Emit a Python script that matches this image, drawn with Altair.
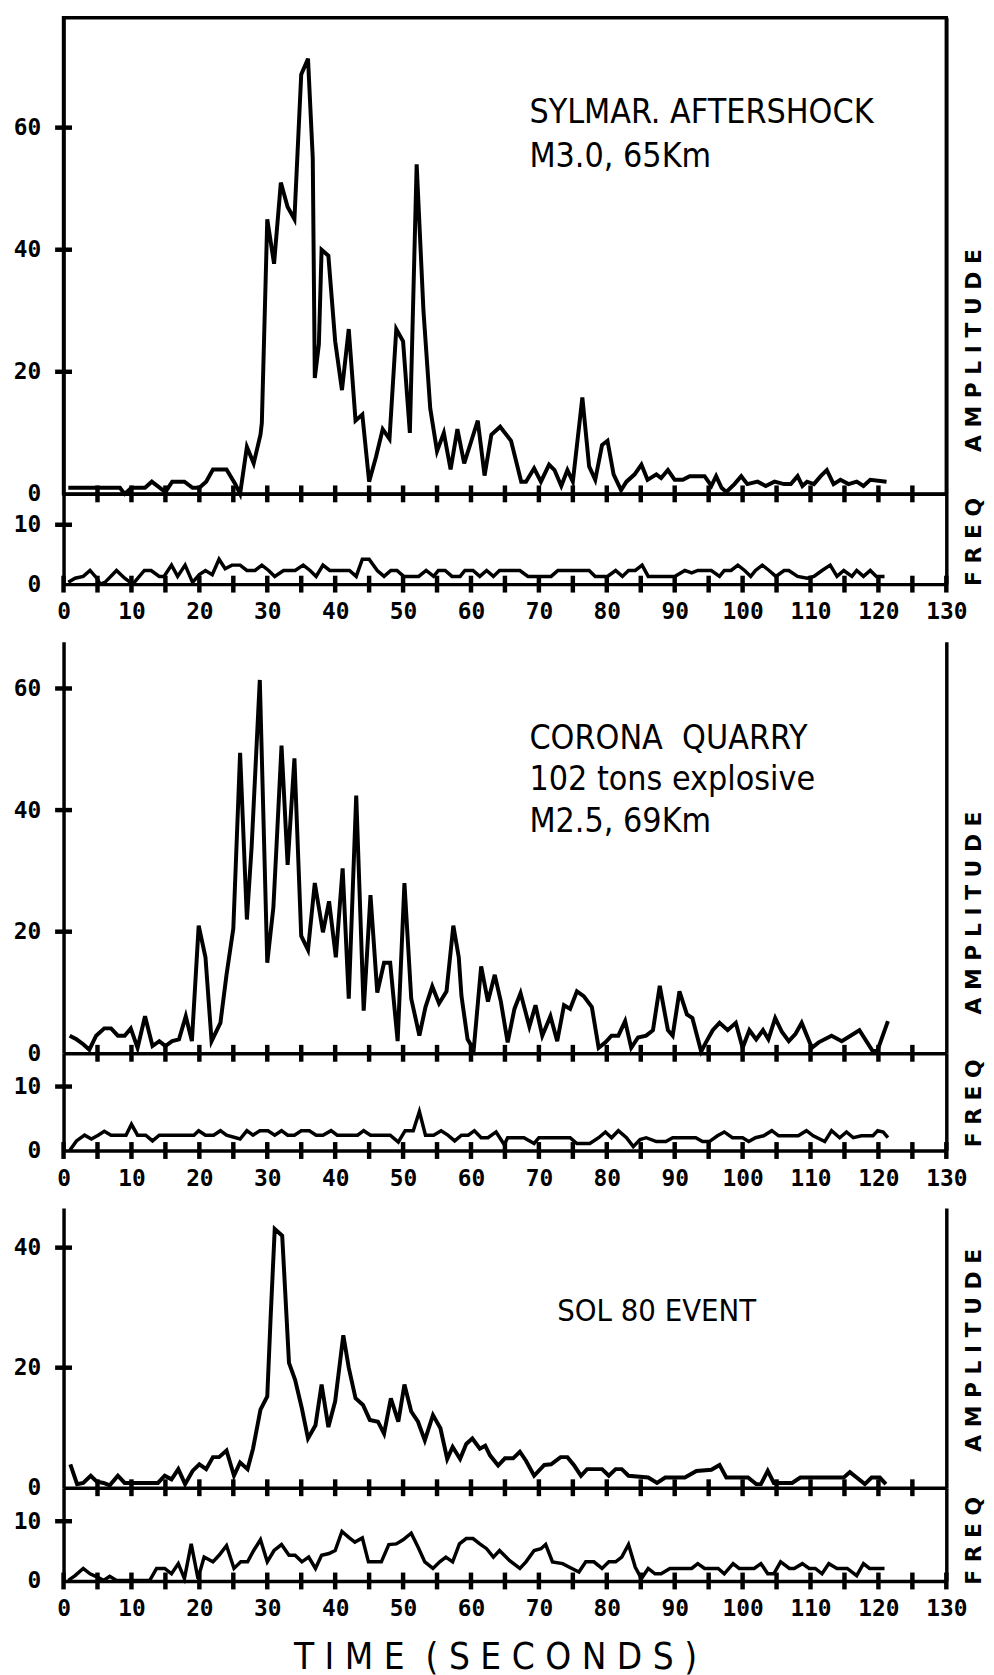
import altair as alt
import pandas as pd

# ---------------- data (time in seconds, value) ----------------
x_label_values = list(range(0, 131, 10))
amp_base_ticks = list(range(5, 130, 5))
freq_base_ticks = list(range(0, 131, 5))

sylmar_amp = [(0.7, 1), (8.3, 1), (9, 0), (10, 1), (12, 1), (13, 2), (15, 0.3), (16, 2), (17.8, 2),
              (19, 1), (20, 1), (21, 2), (22, 4), (24, 4), (25.3, 1.6), (26, 0), (27, 7.7), (28, 5),
              (29, 9.7), (29.2, 11.6), (30, 45), (31, 37.7), (32, 51), (33, 47), (34, 45), (35, 68.7),
              (36, 71.3), (36.7, 55), (37, 19), (37.6, 24.5), (38, 40), (39, 39), (40, 25), (41, 17),
              (42, 27), (43, 12), (44, 13), (45, 2), (46, 6), (47, 10.6), (48, 9), (49, 27), (50, 25),
              (51, 10), (52, 54), (53, 30), (54, 14), (55, 7), (56, 10), (57, 4), (58, 10.6), (59, 5),
              (60, 8.5), (61, 12), (62, 3), (63, 9.7), (64.3, 11), (65.9, 8.7), (67.4, 2), (68.1, 2),
              (69.3, 4.2), (70.3, 2), (71.5, 4.8), (72.3, 3.9), (73.3, 1.3), (74.2, 3.9), (75, 2),
              (76.4, 15.8), (77.4, 4.5), (78.3, 2.3), (79.3, 8), (80.1, 8.7), (81, 3.2), (82.1, 0.6),
              (82.9, 2), (84.1, 3.2), (85.1, 4.8), (86, 2.3), (87.3, 3.2), (88, 2.6), (89, 3.9),
              (90, 2.3), (91.2, 2.3), (92.2, 2.9), (94.4, 2.9), (95.4, 1.3), (96.1, 2.9), (96.9, 1),
              (97.6, 0.3), (98.8, 1.6), (99.8, 2.9), (100.7, 1.6), (102.2, 2), (103.4, 1.3),
              (104.7, 2), (106.1, 1.6), (107.1, 1.6), (108.1, 2.9), (108.8, 1.3), (109.5, 2),
              (110.5, 1.6), (111.5, 2.9), (112.4, 3.9), (113.4, 1.6), (114.4, 2.3), (115.6, 1.6),
              (116.8, 2), (117.8, 1.3), (118.8, 2.3), (121.2, 2)]

sylmar_freq = [(0.7, 0.3), (1.7, 1), (2.9, 1.3), (3.9, 2.3), (4.9, 1), (5.4, 0), (6.1, 0.3), (7.8, 2.3),
               (9, 1), (10.2, 0), (11.9, 2.3), (12.9, 2.3), (14.1, 1.3), (14.8, 1.3), (15.9, 3.2),
               (16.8, 1.3), (17.9, 3.2), (19, 0.3), (20, 1.6), (20.9, 2.3), (21.9, 1.6), (22.9, 4.2),
               (23.8, 2.6), (24.8, 3.2), (26, 3.2), (27, 2.3), (28.2, 2.3), (29.2, 3.2), (30.2, 2.3),
               (31.1, 1.3), (32.4, 2.3), (34.1, 2.3), (35.3, 3.2), (36.3, 2.3), (37.2, 1.3), (38.2, 3.2),
               (39.2, 2.3), (42.1, 2.3), (43.1, 1.3), (44, 4.2), (45, 4.2), (46.2, 2.3), (47.2, 1.3),
               (48.2, 2.3), (49.1, 2.3), (50.1, 1.3), (52.3, 1.3), (53.4, 2.3), (54.5, 1.3), (55.2, 2.3),
               (56.2, 2.3), (57.2, 1.3), (58.4, 1.3), (59.1, 2.3), (60.3, 2.3), (61.3, 1.3), (62.3, 2.3),
               (63.3, 1.3), (64.2, 2.3), (67.2, 2.3), (68.4, 1.3), (71.8, 1.3), (72.8, 2.3), (77.4, 2.3),
               (78.3, 1.3), (80.1, 1.3), (81.3, 2.3), (82.3, 1.3), (83.2, 2.3), (84.2, 2.3), (85.2, 3.2),
               (86.1, 1.3), (90, 1.3), (91.5, 2.3), (92.5, 1.9), (93.4, 2.3), (95.4, 2.3), (96.6, 1.3),
               (97.3, 2.3), (98.3, 2.3), (99.3, 3.2), (100.3, 2.3), (101.2, 1.3), (101.9, 2.3),
               (102.9, 3.2), (103.9, 2.3), (104.9, 1.3), (106.1, 2.3), (106.8, 2.3), (108.1, 1.3),
               (109.5, 1), (110.5, 1.3), (111.7, 2.3), (112.9, 3.2), (113.9, 1.3), (114.9, 2.3),
               (116.1, 1.3), (116.8, 2.3), (117.8, 1.3), (118.8, 2.3), (119.7, 1.3), (120.9, 1.3)]

corona_amp = [(0.9, 2.9), (1.9, 2.3), (2.9, 1.5), (3.8, 0.6), (4.8, 2.9), (6, 4.1), (7, 4.1), (8, 2.9),
              (9, 2.9), (9.9, 4.1), (10.9, 0.9), (12, 6.1), (13.1, 1.2), (14.1, 2), (15, 1.2), (16, 2),
              (17, 2.3), (18, 6.1), (18.9, 2), (19.9, 21), (20.9, 15.8), (21.8, 2), (23.1, 5), (24, 12.9),
              (25, 20.5), (25.4, 32), (26, 49.4), (27, 22), (27.7, 34), (28.9, 61.4), (30, 14.9),
              (30.9, 24), (31.3, 32.7), (32.1, 50.6), (33, 31), (34, 48.5), (35, 19.3), (36, 17),
              (37, 28), (38.2, 19.9), (39.1, 25), (40.1, 15.8), (41.1, 30.4), (42, 9), (43.1, 42.4),
              (44.2, 7), (45.2, 26), (46.2, 10), (47.2, 14.9), (48.1, 14.9), (49.2, 2), (50.2, 28),
              (51.2, 9), (52.4, 2.9), (53.3, 7.6), (54.3, 11), (55.3, 8.2), (56.4, 10.2), (57.4, 21),
              (58.2, 15.8), (58.6, 9.4), (59.5, 2.3), (60.4, 0.6), (61.5, 14.3), (62.5, 8.5),
              (63.5, 12.9), (64.4, 8.5), (65.4, 1.8), (66.4, 7.3), (67.3, 9.9), (68.6, 4.4), (69.5, 7.9),
              (70.5, 2.9), (71.7, 6.1), (72.7, 2), (73.7, 7.9), (74.6, 7.3), (75.6, 10.2), (76.6, 9.4),
              (77.8, 7.6), (78.8, 0.9), (79.8, 1.8), (80.7, 2.9), (81.7, 2.9), (82.7, 5.3), (83.6, 0.9),
              (84.6, 2.6), (85.8, 2.9), (86.8, 3.8), (87.8, 11.1), (89, 3.8), (89.7, 2.9), (90.7, 10.2),
              (91.8, 6.4), (92.6, 5.8), (93.9, 0.3), (94.6, 1.8), (95.6, 3.8), (96.6, 5), (97.8, 3.8),
              (99, 5), (100, 0.9), (101, 3.8), (102, 2.3), (103, 3.8), (103.8, 2.3), (104.8, 5.8),
              (105.8, 3.5), (106.8, 2), (107.8, 3.2), (108.7, 5), (110.2, 0.9), (111.2, 1.8),
              (113.1, 2.9), (114.6, 2), (117.2, 3.8), (119.2, 0.3), (119.9, 0.6), (121.4, 5.3)]

corona_freq = [(0.9, 0), (1.9, 1.5), (3.1, 2.4), (4.1, 1.8), (5.1, 2.4), (6, 3), (7, 2.4), (9.2, 2.4),
               (10, 4.1), (10.9, 2.4), (12.1, 2.4), (13.1, 1.5), (14.1, 2.4), (19.2, 2.4), (19.9, 3.1),
               (20.9, 2.4), (22.1, 2.4), (23.1, 3.1), (24, 2.4), (26, 1.8), (27, 3.1), (27.9, 2.4),
               (28.9, 3.1), (30.1, 3.1), (31.1, 2.4), (32.1, 3.1), (33, 2.4), (34, 2.4), (35, 3.1),
               (36.2, 3.1), (37.2, 2.4), (38.2, 2.4), (39.4, 3.1), (40.3, 2.4), (43.3, 2.4), (44.2, 3.1),
               (45.2, 2.4), (48.1, 2.4), (49.3, 1.3), (50.3, 3.1), (51.5, 3.1), (52.4, 6.1), (53.3, 2.4),
               (54.5, 2.4), (55.6, 3.1), (56.6, 2.4), (57.6, 1.5), (58.6, 2.4), (59.6, 2.4), (60.5, 3.1),
               (61.5, 2), (62.5, 2), (63.7, 2.9), (64.9, 0.9), (65.4, 2), (67.8, 2), (69.3, 1.1), (70, 2),
               (74.6, 2), (75.6, 1.1), (77.5, 1.1), (78.8, 2), (79.8, 2.9), (80.7, 2), (81.7, 3.1),
               (82.9, 2), (83.9, 0.6), (84.9, 1.7), (85.8, 2), (87.3, 1.4), (88.7, 1.4), (89.7, 2),
               (93.1, 2), (94.1, 1.4), (95.1, 1.4), (96.3, 2.3), (97.3, 2.9), (98.5, 2), (100, 2),
               (100.9, 1.4), (101.9, 2), (103.1, 2.3), (104.3, 3.1), (105.3, 2.3), (108.2, 2.3),
               (109.4, 3.1), (110.4, 2.3), (112.1, 1.4), (113.1, 3.1), (114.3, 2), (115.3, 2.9),
               (116.3, 2), (117.5, 2.3), (119.2, 2.3), (119.9, 3.1), (120.7, 2.9), (121.4, 2)]

sol_amp = [(1, 3.9), (2, 0.6), (2.9, 0.8), (4, 2), (4.9, 1), (5.9, 0.8), (6.8, 0.4), (8, 2), (9, 0.8),
           (10, 0.8), (13.9, 0.8), (14.9, 2), (15.9, 1.4), (16.9, 3.1), (17.9, 0.6), (19, 2.8), (20, 3.9),
           (21, 3.1), (22, 5.1), (22.9, 5.1), (24, 6.2), (25.1, 2), (26, 4.2), (27.1, 3.1), (27.9, 6.5),
           (29, 13), (30, 15.2), (30.5, 28.5), (31.1, 43.1), (32.2, 42), (33.2, 20.8), (34.1, 18),
           (35.1, 13.2), (36, 8.2), (37.1, 10.4), (38, 17.2), (39, 10.1), (40, 14.4), (41.2, 25.4),
           (42, 20), (43, 14.9), (44.1, 13.8), (45.1, 11.3), (46.3, 11), (47.2, 9), (48.2, 14.9),
           (49.3, 11), (50.2, 17.2), (51.2, 12.7), (52.2, 11), (53.2, 7.9), (54.4, 12.1), (55.5, 9.9),
           (56.5, 4.8), (57.3, 6.8), (58.4, 4.8), (59.3, 7.3), (60.2, 8.2), (61.3, 6.5), (62.1, 7),
           (62.8, 5.4), (64, 3.7), (65, 4.9), (66.2, 4.9), (67.2, 6), (68.1, 4.5), (69.3, 2), (70.8, 3.8),
           (71.8, 3.9), (73.2, 5.1), (74.2, 5.1), (75.2, 3.7), (76.2, 2), (77.1, 3.1), (79.3, 3.1),
           (80.3, 2), (81.3, 3.1), (82.2, 3.1), (83.2, 2), (86.1, 1.7), (87.4, 0.8), (88.6, 1.7),
           (91.5, 1.7), (93.2, 2.8), (95.4, 3), (96.6, 3.8), (97.6, 1.7), (100.8, 1.7), (102, 0.6),
           (102.7, 0.6), (103.7, 2.8), (104.6, 0.8), (107.3, 0.8), (108.5, 1.7), (111.7, 1.7),
           (114.9, 1.7), (115.8, 2.6), (116.8, 1.7), (118, 0.6), (119, 1.7), (120.2, 1.7), (121.1, 0.6)]

sol_freq = [(0.7, 0.1), (1.7, 0.9), (2.9, 2.1), (3.9, 1.2), (4.9, 0.7), (5.9, 0.1), (6.8, 0.8), (7.8, 0.1),
            (12.7, 0.1), (13.7, 2.1), (14.9, 2.1), (15.9, 1.2), (16.9, 2.9), (17.8, 0.4), (18.8, 6.2),
            (19.8, 0.4), (20.7, 4), (22, 3.2), (22.9, 4.3), (24, 5.9), (25.1, 2.1), (26.1, 3.2),
            (27.1, 3.2), (28, 5.1), (29, 6.9), (30, 3.2), (31, 5.1), (32.1, 6.1), (33.2, 4.3), (34.1, 4.3),
            (35.1, 3.2), (36.1, 4), (37.1, 2.1), (38, 4.3), (39.1, 4.6), (40, 5.1), (41, 8.3), (42, 7.3),
            (42.9, 6.5), (44, 7.2), (44.9, 3.2), (46.8, 3.2), (47.9, 6.1), (49, 6.2), (50, 6.9), (51.2, 8),
            (52.2, 5.7), (53.2, 3.2), (54.4, 2.1), (55.4, 3.2), (56.3, 4), (57.3, 3.2), (58.3, 6.2),
            (59.3, 7.1), (60.3, 7.1), (61.3, 6.2), (62.3, 5.4), (63.3, 4), (64.2, 5.1), (65.7, 3.4),
            (67.2, 2.1), (68.1, 3.2), (69.3, 5.1), (70.3, 5.4), (71, 6.1), (72, 3.2), (73.5, 2.9),
            (74.5, 2.3), (75.9, 1.5), (76.9, 3.2), (78.1, 3.2), (79.3, 2.1), (80.3, 3.2), (81.3, 3.2),
            (82.2, 4), (83.2, 6.1), (84.2, 2.3), (85.1, 0.4), (86.1, 2.1), (87.1, 1.2), (88, 1.2),
            (89.3, 2.1), (92.5, 2.1), (93.4, 2.9), (94.4, 2.1), (96.4, 2.1), (97.3, 1.2), (98.6, 2.9),
            (99.5, 2.1), (101.7, 2.1), (102.7, 2.9), (103.7, 1.2), (104.6, 1.2), (105.6, 3.2),
            (106.9, 2.1), (107.6, 2.1), (108.8, 2.9), (109.8, 2.1), (110.7, 2.1), (111.7, 1.2),
            (112.7, 2.9), (113.9, 2.1), (115.4, 2.1), (116.8, 0.9), (117.8, 2.9), (118.7, 2.1), (120.9, 2.1)]

NB = "\u00a0"
sylmar_note = "SYLMAR. AFTERSHOCK\nM3.0, 65Km"
corona_note = "CORONA " + NB + "QUARRY\n102 tons explosive\nM2.5, 69Km"
sol_note = "SOL 80 EVENT"
amp_title = " ".join("AMPLITUDE")
freq_title = " ".join("FREQ")
time_title = " ".join("TIME") + " " + NB + " ".join("(SECONDS)")

# ---------------- styling ----------------
W = 890
INK = "black"
TICK_FONT = "DejaVu Sans Mono"
NOTE_FONT = "DejaVu Sans Condensed, Liberation Sans Narrow, DejaVu Sans"
X_SCALE = alt.Scale(domain=[0, 130], nice=False, zero=False)
PX_PER_SEC = W / 130.0
HALF_X = 8.5   # half length (px) of the crossing ticks on the left axis
HALF_Y = 8.5   # half length (px) of the crossing ticks on the base lines
TICK_W = 4.5


def axis(**kw):
    d = dict(grid=False, domain=True, domainColor=INK, domainWidth=3.5, ticks=False, tickSize=0,
             labelFlush=False, labelOverlap=False, labelFont=TICK_FONT, labelFontSize=23,
             labelFontWeight="bold", labelColor=INK, title=None)
    d.update(kw)
    return alt.Axis(**d)


def part(series, ymax, height, label_vals, tick_vals, base_ticks, rtitle, rtitle_y, stroke_w,
         xaxis, note=None, framed=False):
    ys = alt.Scale(domain=[0, ymax], nice=False, zero=False)
    px_per_unit = height / ymax
    df = pd.DataFrame(series, columns=["t", "v"])

    line = alt.Chart(df).mark_line(color=INK, strokeWidth=stroke_w).encode(
        x=alt.X("t:Q", scale=X_SCALE, axis=xaxis),
        y=alt.Y("v:Q", scale=ys, axis=axis(orient="left", values=label_vals, labelPadding=23)),
    )
    # crossing ticks on the left axis
    ldf = pd.DataFrame({"v": tick_vals,
                        "a": [-HALF_X / PX_PER_SEC] * len(tick_vals),
                        "b": [HALF_X / PX_PER_SEC] * len(tick_vals)})
    lticks = alt.Chart(ldf).mark_rule(color=INK, strokeWidth=TICK_W).encode(
        x=alt.X("a:Q", scale=X_SCALE, axis=None), x2="b:Q",
        y=alt.Y("v:Q", scale=ys, axis=None),
    )
    # crossing ticks on the base line
    bdf = pd.DataFrame({"t": base_ticks,
                        "lo": [-HALF_Y / px_per_unit] * len(base_ticks),
                        "hi": [HALF_Y / px_per_unit] * len(base_ticks)})
    bticks = alt.Chart(bdf).mark_rule(color=INK, strokeWidth=TICK_W).encode(
        x=alt.X("t:Q", scale=X_SCALE, axis=None),
        y=alt.Y("lo:Q", scale=ys, axis=None), y2="hi:Q",
    )
    # right-hand frame line with its title
    frame = alt.Chart(df).mark_line(strokeOpacity=0).encode(
        x=alt.X("t:Q", scale=X_SCALE, axis=None),
        y=alt.Y("v:Q", scale=ys,
                axis=alt.Axis(orient="right", grid=False, domain=True, domainColor=INK,
                              domainWidth=3.5, ticks=False, labels=False, title=rtitle,
                              titleAngle=270, titleX=27, titleY=rtitle_y, titleAlign="center",
                              titleBaseline="middle", titleFont="DejaVu Sans",
                              titleFontWeight="bold", titleFontSize=22, titleColor=INK)),
    )
    layers = [line, lticks, bticks, frame]
    if note is not None:
        text, t0, v0, size, lh = note
        ndf = pd.DataFrame({"t": [t0], "v": [v0], "label": [text]})
        layers.append(
            alt.Chart(ndf).mark_text(align="left", baseline="alphabetic", font=NOTE_FONT,
                                     fontSize=size, lineBreak="\n", lineHeight=lh, color=INK).encode(
                x=alt.X("t:Q", scale=X_SCALE, axis=None),
                y=alt.Y("v:Q", scale=ys, axis=None),
                text="label:N",
            )
        )
    ch = alt.layer(*layers).resolve_axis(x="independent", y="independent").properties(
        width=W, height=height)
    if framed:
        ch = ch.properties(view=alt.ViewBackground(stroke=INK, strokeWidth=3.5))
    return ch


amp_x = axis(orient="bottom", labels=False)
freq_x = axis(orient="bottom", values=x_label_values, labelPadding=17)
freq_x_last = axis(orient="bottom", values=x_label_values, labelPadding=17,
                   title=time_title, titleFont="DejaVu Sans Condensed, DejaVu Sans",
                   titleFontSize=37, titleFontWeight="normal", titleColor=INK, titleX=435, titleY=88,
                   titleAlign="center", titleBaseline="alphabetic")

a1 = part(sylmar_amp, 78.0, 480, [0, 20, 40, 60], [20, 40, 60], amp_base_ticks, amp_title, 335, 4,
          amp_x, note=(sylmar_note, 68.6, 60.7, 34, 43.5), framed=True)
f1 = part(sylmar_freq, 15.2, 91, [0, 10], [10], freq_base_ticks, freq_title, 48, 3.5, freq_x)
a2 = part(corona_amp, 67.7, 415, [0, 20, 40, 60], [20, 40, 60], amp_base_ticks, amp_title, 273, 4,
          amp_x, note=(corona_note, 68.6, 50.1, 34, 42))
f2 = part(corona_freq, 15.2, 98, [0, 10], [10], freq_base_ticks, freq_title, 50, 3.5, freq_x)
a3 = part(sol_amp, 46.6, 282, [0, 20, 40], [20, 40], amp_base_ticks, amp_title, 143, 4,
          amp_x, note=(sol_note, 72.7, 27.8, 31, 38))
f3 = part(sol_freq, 15.6, 94, [0, 10], [10], freq_base_ticks, freq_title, 53, 3.5, freq_x_last)

spacer = alt.Chart(pd.DataFrame({"s": [0]})).mark_point(opacity=0).encode(
    x=alt.X("s:Q", axis=None), y=alt.Y("s:Q", axis=None)
).properties(width=W, height=58)

chart = alt.vconcat(a1, f1, spacer, a2, f2, spacer, a3, f3, spacing=0, bounds="flush").configure_view(
    stroke=None
).properties(padding={"left": 3, "top": 1, "right": 0, "bottom": 0}, background="white")

chart.save("out.html", embed_options={"renderer": "svg", "actions": False})
